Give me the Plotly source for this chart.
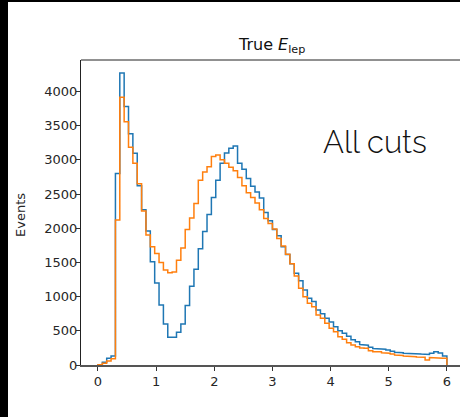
import numpy as np
import plotly.graph_objects as go

bin_edges = np.linspace(0, 6, 81)

blue_counts = [5, 40, 100, 130, 2800, 4270, 3780, 3380, 3095, 2620,
               2270, 1960, 1510, 1200, 877, 600, 405, 405, 480, 600,
               870, 1150, 1400, 1700, 1950, 2200, 2450, 2700, 2950, 3100,
               3170, 3200, 2950, 2860, 2725, 2615, 2530, 2440, 2230, 2110,
               1980, 1890, 1730, 1615, 1480, 1340, 1230, 1096, 975, 930,
               804, 750, 683, 630, 560, 500, 463, 420, 370, 341,
               300, 290, 260, 240, 230, 230, 220, 200, 185, 180,
               171, 168, 165, 161, 160, 155, 171, 195, 175, 132]

orange_counts = [5, 25, 60, 90, 2120, 3914, 3557, 3183, 2950, 2650,
                 2250, 1900, 1730, 1630, 1500, 1390, 1350, 1360, 1530, 1710,
                 1980, 2150, 2360, 2700, 2820, 2900, 3050, 3070, 3000, 2950,
                 2890, 2840, 2740, 2620, 2520, 2450, 2370, 2270, 2140, 2070,
                 1990, 1850, 1740, 1620, 1480, 1300, 1121, 999, 902, 853,
                 731, 683, 609, 536, 487, 414, 375, 326, 292, 268,
                 250, 244, 210, 195, 195, 180, 171, 160, 146, 140,
                 132, 128, 122, 118, 112, 73, 110, 105, 100, 97]

x_ticks = [0, 1, 2, 3, 4, 5, 6]
y_ticks = [0, 500, 1000, 1500, 2000, 2500, 3000, 3500, 4000]


def step_xy(edges, counts):
    xs = np.repeat(edges, 2)
    ys = np.concatenate([[0], np.repeat(counts, 2), [0]])
    return xs, ys


fig = go.Figure()
for counts, color in [(blue_counts, "#1f77b4"), (orange_counts, "#ff7f0e")]:
    xs, ys = step_xy(bin_edges, counts)
    fig.add_trace(go.Scatter(x=xs, y=ys, mode="lines",
                             line=dict(color=color, width=1.5),
                             showlegend=False, hoverinfo="skip"))

W, H = 460, 417
ml, mr, mt, mb = 81, 0, 60, 52
pw = W - ml - mr
ph = H - mt - mb

tick_font = dict(family="DejaVu Sans", size=13, color="#262626")

fig.update_layout(
    width=W, height=H,
    margin=dict(l=ml, r=mr, t=mt, b=mb, pad=0),
    paper_bgcolor="white", plot_bgcolor="white",
    font=dict(family="DejaVu Sans", size=13, color="#262626"),
    xaxis=dict(range=[-0.292, 6.225], tickvals=x_ticks,
               ticks="outside", ticklen=4, tickcolor="#333", tickwidth=1,
               showline=True, linecolor="#555", linewidth=1.5, mirror=False,
               showgrid=False, zeroline=False, tickfont=tick_font),
    yaxis=dict(range=[0, 4459], tickvals=y_ticks,
               ticks="outside", ticklen=4, tickcolor="#333", tickwidth=1,
               showline=True, linecolor="#222", linewidth=1, mirror=False,
               showgrid=False, zeroline=False, tickfont=tick_font,
               ticklabelstandoff=-4),
)

# top spine
fig.add_shape(type="line", xref="paper", yref="paper", x0=0, x1=1, y0=1, y1=1,
              line=dict(color="#222", width=1))

# black strips at the left and top edges of the picture
fig.add_shape(type="rect", xref="paper", yref="paper",
              x0=-ml / pw, x1=(8 - ml) / pw, y0=-mb / ph, y1=1 + mt / ph,
              line=dict(width=0), fillcolor="black", layer="above")
fig.add_shape(type="rect", xref="paper", yref="paper",
              x0=-ml / pw, x1=1, y0=1 + (mt - 2) / ph, y1=1 + mt / ph,
              line=dict(width=0), fillcolor="black", layer="above")

fig.add_annotation(text="True <i>E</i><sub>lep</sub>", xref="paper", yref="paper",
                   x=(271 - ml) / pw, y=1 + (mt - 46) / ph, xanchor="center", yanchor="middle",
                   showarrow=False, font=dict(family="DejaVu Sans", size=16, color="#111"))
fig.add_annotation(text="Events", xref="paper", yref="paper",
                   x=(20 - ml) / pw, y=(H - mb - 215) / ph, xanchor="center", yanchor="middle",
                   textangle=-90, showarrow=False,
                   font=dict(family="DejaVu Sans", size=13, color="#262626"))
fig.add_annotation(text="All cuts", xref="paper", yref="paper",
                   x=(321 - ml) / pw, y=(H - mb - 142) / ph, xanchor="left", yanchor="middle",
                   showarrow=False,
                   font=dict(family="Raleway, Lato, Open Sans", size=31, color="#111", weight=300))

fig.write_html("out.html", config={"displayModeBar": False},
               post_script="document.body.style.margin='0';document.body.style.overflow='hidden';")
